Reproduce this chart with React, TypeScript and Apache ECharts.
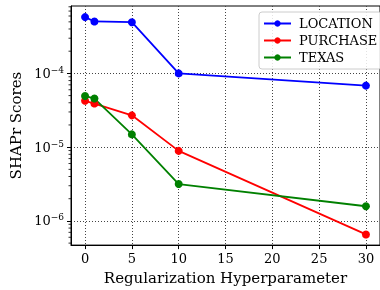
import React, { useEffect, useRef } from "react";
import * as echarts from "echarts";

const xValues = [0, 1, 5, 10, 30];
const locationScores = [5.8e-4, 5.06e-4, 4.95e-4, 1.0e-4, 6.83e-5];
const purchaseScores = [4.25e-5, 3.9e-5, 2.7e-5, 8.9e-6, 6.56e-7];
const texasScores = [4.95e-5, 4.56e-5, 1.49e-5, 3.16e-6, 1.58e-6];
const xTicks = [0, 5, 10, 15, 20, 25, 30];
const yTicks = [1e-6, 1e-5, 1e-4];
const yMinorTicks = [
  5e-7, 6e-7, 7e-7, 8e-7, 9e-7,
  2e-6, 3e-6, 4e-6, 5e-6, 6e-6, 7e-6, 8e-6, 9e-6,
  2e-5, 3e-5, 4e-5, 5e-5, 6e-5, 7e-5, 8e-5, 9e-5,
  2e-4, 3e-4, 4e-4, 5e-4, 6e-4, 7e-4, 8e-4,
];

const FONT = "DejaVu Serif";

export default function App() {
  const ref = useRef<HTMLDivElement>(null);
  useEffect(() => {
    if (!ref.current) return;
    const chart = echarts.init(ref.current, undefined, { renderer: "svg" });
    const mk = (name: string, color: string, vals: number[]) => ({
      name,
      type: "line",
      data: xValues.map((x, i) => [x, vals[i]]),
      color,
      symbol: "circle",
      symbolSize: 8,
      lineStyle: { width: 1.8, color },
      itemStyle: { color },
      z: 5,
    });
    chart.setOption({
      animation: false,
      textStyle: { fontFamily: FONT },
      grid: {
        left: 71,
        top: 6,
        right: -2,
        bottom: 43,
        show: true,
        borderColor: "#000",
        borderWidth: 1,
        containLabel: false,
      },
      legend: {
        data: ["LOCATION", "PURCHASE", "TEXAS"],
        orient: "vertical",
        left: 259,
        top: 12,
        itemWidth: 27,
        itemHeight: 8,
        itemGap: 4,
        padding: [5, 4, 5, 4],
        borderColor: "#ccc",
        borderWidth: 1,
        borderRadius: 3,
        backgroundColor: "rgba(255,255,255,0.85)",
        textStyle: { fontFamily: FONT, fontSize: 13, color: "#000", padding: [0, 0, 0, 3] },
      },
      xAxis: {
        type: "value",
        min: -1.5,
        max: 31.5,
        name: "Regularization Hyperparameter",
        nameLocation: "middle",
        nameGap: 22,
        nameTextStyle: { fontFamily: FONT, fontSize: 15, color: "#000" },
        axisLine: { onZero: false, lineStyle: { color: "#000", width: 1 } },
        axisTick: { show: true, inside: false, length: 4, customValues: xTicks, lineStyle: { color: "#000" } },
        axisLabel: { customValues: xTicks, fontFamily: FONT, fontSize: 13, color: "#000", margin: 7 },
        splitLine: { show: true, lineStyle: { color: "#444", width: 1, type: [1, 2] } },
      },
      yAxis: {
        type: "log",
        logBase: 10,
        min: 4.7e-7,
        max: 8.2e-4,
        name: "SHAPr Scores",
        nameLocation: "middle",
        nameGap: 42,
        nameTextStyle: { fontFamily: FONT, fontSize: 15, color: "#000" },
        axisLine: { show: true, onZero: false, lineStyle: { color: "#000", width: 1 } },
        axisTick: { show: true, inside: false, length: 4, customValues: yTicks, lineStyle: { color: "#000" } },
        axisLabel: {
          customValues: yTicks,
          margin: 7,
          formatter: (v: number) => {
            const e = Math.round(Math.log10(v));
            return `{b|10}{s|\u2212${Math.abs(e)}}`;
          },
          rich: {
            b: { fontFamily: FONT, fontSize: 13, color: "#000" },
            s: { fontFamily: FONT, fontSize: 9, color: "#000", padding: [0, 0, 7, 0] },
          },
        },
        splitLine: { show: true, lineStyle: { color: "#444", width: 1, type: [1, 2] } },
      },
      series: [
        mk("LOCATION", "#0000ff", locationScores),
        mk("PURCHASE", "#ff0000", purchaseScores),
        mk("TEXAS", "#008000", texasScores),
        {
          type: "custom",
          name: "minor",
          silent: true,
          clip: false,
          data: yMinorTicks.map((v) => [-1.5, v]),
          renderItem: (params: any, api: any) => {
            const p = api.coord([api.value(0), api.value(1)]);
            return {
              type: "line",
              shape: { x1: p[0] - 2.5, y1: p[1], x2: p[0], y2: p[1] },
              style: { stroke: "#000", lineWidth: 0.8 },
            };
          },
          z: 10,
        },
      ],
    });
    return () => chart.dispose();
  }, []);
  return (
    <div
      ref={ref}
      style={{ position: "fixed", left: 0, top: 0, width: 380, height: 290 }}
    />
  );
}
